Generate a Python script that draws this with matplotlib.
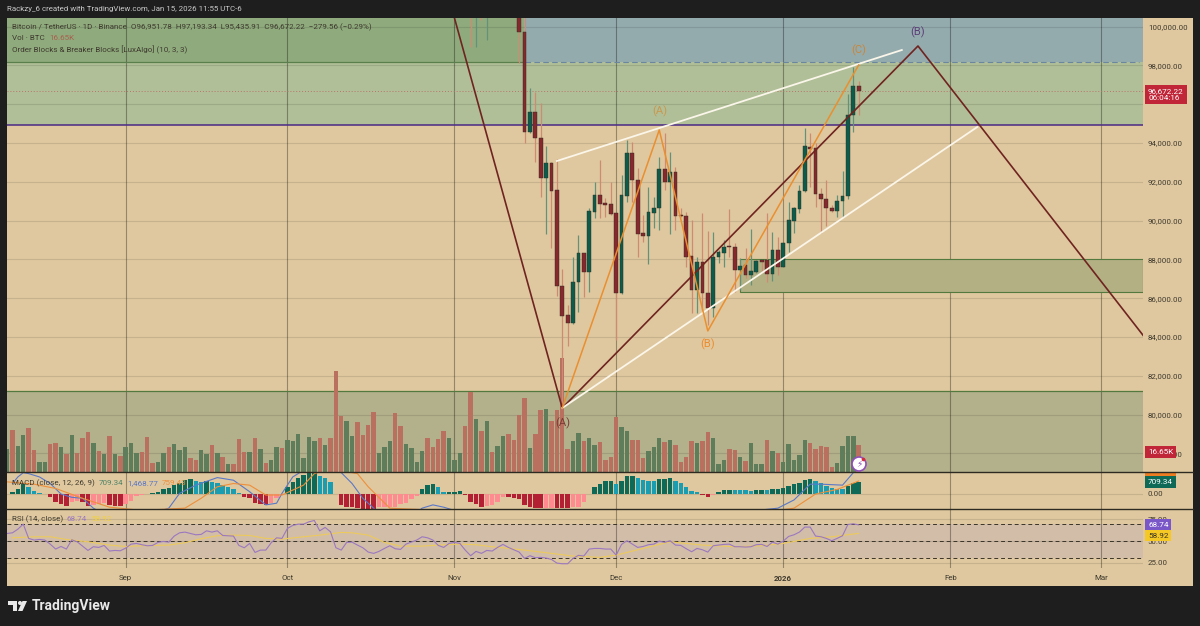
import matplotlib
matplotlib.use("Agg")
import matplotlib.pyplot as plt
import numpy as np
from matplotlib.patches import Rectangle, Polygon, Circle
from matplotlib.transforms import Bbox

plt.rcParams["font.family"] = ["Roboto", "DejaVu Sans"]

# bars are numbered from Aug 10 2025, one per day
month_ticks = [22, 52, 83, 113, 144, 175, 203]
month_labels = ["Sep", "Oct", "Nov", "Dec", "2026", "Feb", "Mar"]

volume = [14.6, 26.0, 16.5, 23.3, 27.5, 14.0, 6.5, 6.0, 17.7, 17.9, 15.4, 11.0, 22.9, 11.7, 21.3, 25.0, 18.3, 13.3, 11.5, 22.5,
          11.0, 9.8, 15.8, 18.3, 11.9, 12.3, 21.7, 5.4, 6.3, 11.9, 15.4, 17.5, 14.0, 15.4, 8.8, 7.5, 13.5, 11.0, 16.9, 11.9,
          9.4, 5.0, 5.0, 20.6, 12.3, 12.5, 21.3, 14.4, 5.8, 7.7, 15.4, 15.2, 20.2, 19.6, 23.8, 8.8, 22.1, 19.6, 21.5, 17.1,
          21.5, 63.3, 35.2, 31.9, 22.5, 31.5, 22.9, 29.6, 37.5, 11.7, 15.4, 19.2, 36.9, 28.5, 17.7, 15.2, 6.5, 13.3, 21.3, 15.4, 20.8,
          25.6, 21.5, 7.7, 12.1, 28.5, 49.8, 33.3, 25.6, 31.9, 12.3, 16.3, 22.5, 24.0, 20.2, 35.8, 46.5, 15.0, 23.5, 38.8, 39.2,
          31.9, 39.0, 71.5, 14.4, 19.4, 24.4, 19.4, 21.5, 16.7, 18.8, 7.7, 9.6, 34.4, 28.1, 25.6, 19.8, 19.8, 8.8, 12.9, 15.6,
          21.0, 18.8, 20.0, 16.7, 6.0, 9.6, 19.6, 18.3, 19.6, 25.2, 21.0, 5.2, 7.3, 14.6, 14.0, 9.4, 7.1, 18.1, 4.8, 4.8,
          20.0, 12.9, 11.9, 6.5, 17.5, 7.3, 10.4, 20.2, 18.1, 14.4, 16.0, 15.4, 3.3, 5.6, 16.3, 22.7, 22.7, 16.65]
volume_dir = ("GRGGRRGGRR" "GRGRRRGRGR" "GRGGGRRRGG" "RGGGRRGGRG" "RGRRRGRGRG" "GRGGGGGGRG" "RRRGGRRRRG" "GGRRGGGGRRR"
              "RGGGRRGRGR" "GGRRRRGRRG" "RRRRGGRGGR" "RRRGGRRRGG" "GRGRRRRGRR" "GGGRRGRGGG" "RGRGGGGGRR" "RRRGGGGR")

# candles, first one is bar 86, earlier ones are off the top of the chart
first_candle = 86
opens = [102500, 101800, 102500, 101000, 102500, 101700, 103000, 103400, 102600, 101600, 99710, 94587, 95618, 94243, 92215,
         92988, 91579, 86645, 85132, 84703, 86834, 88313, 87367, 90461, 91321, 90891, 90840, 90375, 86250, 91269, 93470,
         92094, 89344, 89224, 90410, 90633, 92679, 92008, 92507, 90290, 90255, 88175, 86422, 87848, 86250, 85511, 88106,
         88347, 88691, 88622, 87453, 87694, 87195, 87367, 87952, 87969, 87230, 88485, 87625, 88828, 89997, 90616, 91527,
         93813, 93727, 91355, 91097, 90668, 90496, 91011, 91269, 95446, 96951.78]
highs = [103000, 103000, 103000, 103500, 103200, 103500, 103800, 103900, 102900, 102000, 100800, 96856, 96650, 96048, 93865,
         93040, 93160, 87488, 85648, 88141, 89258, 88330, 90633, 91974, 93126, 91149, 92008, 90400, 92352, 94157, 94071,
         92696, 90290, 91751, 91235, 93298, 94501, 93556, 92782, 90633, 90461, 90032, 88141, 90375, 89464, 89430, 88485,
         89000, 90582, 88828, 88055, 88570, 89550, 87969, 87969, 90410, 89396, 89172, 88914, 90977, 90719, 91837, 94759,
         94501, 93985, 91665, 92094, 90805, 91321, 92576, 96530, 97900, 97193.34]
lows = [98970, 98970, 100345, 99314, 101300, 101300, 102600, 102200, 100900, 98110, 94018, 94500, 93040, 91235, 89292,
        88605, 86112, 80600, 83534, 84650, 85270, 86078, 86301, 90117, 90117, 90169, 90290, 83843, 86215, 90977, 90977,
        88106, 88914, 87762, 89602, 89516, 91579, 89292, 89516, 90203, 87625, 85218, 85218, 85390, 84617, 85046, 87797,
        87625, 88141, 86335, 86422, 87023, 86679, 87281, 87367, 86851, 86903, 87195, 87600, 88399, 89344, 90375, 91493,
        91751, 90719, 89344, 89722, 90461, 90203, 90203, 91097, 94585, 95435.91]
closes = [102000, 102500, 101500, 102500, 101700, 103000, 103400, 102600, 101600, 99710, 94585, 95618, 94243, 92215, 92988,
          91544, 86645, 85098, 84703, 86851, 88313, 87367, 90496, 91321, 90857, 90805, 90341, 86250, 91321, 93470, 92094,
          89310, 89224, 90427, 90668, 92679, 92008, 92507, 90255, 90255, 88141, 86422, 87848, 86250, 85511, 88141, 88364,
          88656, 88622, 87453, 87677, 87195, 87384, 87900, 87883, 87230, 88485, 87625, 88828, 90032, 90633, 91544, 93848,
          93710, 91355, 91097, 90633, 90496, 91029, 91287, 95446, 96951.78, 96672.22]

macd_hist = [0, 118, 276, 571, 374, 177, 20, -39, -197, -493, -611, -709, -493, -453, -473, -709, -670, -630, -571, -670,
             -729, -749, -630, -414, -138, -79, -20, 20, 118, 256, 355, 493, 650, 808, 867, 768, 690, 749, 709, 670,
             512, 394, 276, 20, -197, -236, -532, -630, -690, -532, -276, -79, 394, 709, 926, 1103, 1221, 1230, 1064, 946,
             709, -39, -670, -768, -788, -867, -906, -920, -930, -808, -800, -788, -768, -611, -532, -315, -118, 296, 512, 571, 414,
             118, 118, 118, 138, -99, -512, -630, -808, -729, -690, -493, -197, -210, -230, -335, -670, -808, -847, -867,
             -847, -840, -867, -880, -885, -827, -808, -473, 0, 374, 591, 749, 788, 591, 788, 1044, 1084, 946, 847, 788,
             780, 906, 910, 915, 749, 650, 414, 177, 99, -59, -177, -59, 99, 197, 236, 230, 217, 197, 190, 236,
             240, 217, 256, 260, 355, 433, 552, 630, 808, 906, 749, 611, 473, 335, 296, 256, 453, 611, 709]
macd_x = [1, 2, 3, 4, 6, 8, 10, 12, 14, 16, 19, 25, 30, 32, 35, 39, 42, 45, 48, 50, 51, 53, 55, 58, 62, 64, 66, 68, 72, 77, 79,
          81, 85, 100, 125, 143, 146, 149, 151, 155, 157, 158]
macd_line = [611, 1005, 1261, 1202, 1005, 611, -20, -217, -276, -867, -1400, -1400, -867, 20, 512, 965, 808, 118, -670, -571,
             20, 1005, 1400, 1800, 1261, 611, -276, -867, -2200, -867, -670, -808, -1200, -4000, -1500, -867, -374, 571, 571,
             512, 1261, 1468.77]
signal_x = [0, 5, 9, 14, 19, 25, 33, 36, 39, 42, 45, 48, 51, 55, 57, 60, 65, 67, 71, 80, 100, 125, 146, 150, 154, 158]
signal_line = [709, 571, 315, -276, -808, -1000, -867, -276, 414, 611, 512, -79, -79, 512, 1202, 1500, 1202, 414, -867, -1000,
               -3200, -1800, -867, -20, 256, 759.43]

rsi = [58.8, 59.6, 63.8, 69.6, 53.1, 51.2, 51.9, 51.2, 46.5, 40.8, 43.8, 40.8, 51.5, 49.2, 44.2, 39.2, 43.5, 42.7, 45.0, 38.5,
       39.2, 38.8, 41.9, 46.5, 47.3, 45.8, 44.6, 45.0, 48.5, 49.6, 48.8, 55.8, 59.6, 60.4, 58.8, 57.3, 57.7, 61.9, 60.4, 61.9,
       56.5, 56.2, 55.8, 45.0, 42.3, 47.3, 36.9, 39.6, 39.6, 48.1, 53.8, 53.1, 64.6, 68.1, 69.6, 69.6, 72.3, 73.8, 61.9, 65.8,
       60.8, 42.3, 39.6, 48.5, 48.8, 45.4, 42.3, 37.3, 35.8, 38.1, 41.5, 44.6, 41.2, 40.4, 46.5, 48.8, 51.2, 55.0, 53.8, 51.2, 45.0,
       42.7, 47.3, 48.5, 47.3, 39.6, 33.1, 38.1, 35.8, 39.2, 38.5, 42.7, 46.2, 42.7, 40.0, 37.3, 30.0, 33.1, 30.8, 31.2, 30.4,
       28.8, 24.6, 23.8, 23.8, 30.0, 33.5, 32.7, 40.8, 41.5, 41.5, 40.8, 40.8, 33.8, 46.2, 50.4, 46.5, 42.7, 43.8, 45.8, 46.5,
       50.0, 48.5, 50.4, 45.4, 45.0, 41.2, 37.7, 41.5, 40.0, 37.3, 44.6, 45.4, 46.2, 46.5, 43.5, 43.5, 43.1, 43.5, 45.8, 46.2,
       43.8, 48.8, 46.5, 50.0, 55.4, 57.3, 60.4, 66.2, 66.2, 55.8, 55.0, 53.1, 50.4, 53.1, 56.2, 69.2, 70.0, 68.74]
rsi_ma_x = [1, 5, 8, 11, 15, 19, 22, 25, 30, 33, 36, 39, 42, 45, 48, 51, 55, 58, 62, 64, 67, 70, 73, 77, 80,
            84, 87, 90, 96, 101, 105, 110, 113, 118, 123, 129, 135, 140, 144, 149, 153, 158]
rsi_ma = [53.8, 55, 55, 51.9, 49.2, 45.4, 43.8, 44.6, 45.4, 48.1, 52.7, 56.2, 56.9, 56.5, 53.1, 52.3, 55, 56.9, 60, 59.6, 56.9,
          48.5, 44.2, 44.2, 45.4, 46.5, 45.8, 43.5, 39.6, 35.8, 32.7, 31.2, 33.8, 41.5, 49.2, 45.4, 43.5, 44.6, 47.3, 53.1, 55, 58.92]

# drawings on the chart
zigzag_x = [83, 103, 169, 211]
zigzag_y = [100450, 80335, 99005, 84000]
orange_x = [103, 121, 130, 158]
orange_y = [80335, 94673, 84310, 98025]
upper_x = [102, 166]
upper_y = [93074, 98798]
lower_x = [103, 180]
lower_y = [80335, 94827]
level = 94930
prev_close_level = 98200
price_ticks = [78000, 80000, 82000, 84000, 86000, 88000, 90000, 92000, 94000, 96000, 98000, 100000]

BG = "#dfc89f"
DARK = "#1e1e1e"
TXT = "#3f3a2e"
UP = "#0d5c4b"
DOWN = "#86282d"
UP_WICK = "#63917a"
DOWN_WICK = "#cf8a72"
LEGEND_SIZE = 5.8
W, H = 1200, 626
PX = 1 / 0.01939  # price per pixel on the main pane


def pane(top, bottom):
    a = fig.add_axes([7 / W, 1 - bottom / H, 1136 / W, (bottom - top) / H])
    a.set_facecolor("none")
    for s in a.spines.values():
        s.set_visible(False)
    a.set_xlim(-0.02, 210.75)
    a.set_xticks(month_ticks)
    a.grid(True, axis="y", color="black", alpha=0.11, lw=0.8)
    a.grid(True, axis="x", color="black", alpha=0.33, lw=0.8)
    a.set_axisbelow(True)
    a.yaxis.tick_right()
    a.tick_params(axis="both", length=0, labelsize=5.7, labelcolor=TXT, labelbottom=False, pad=3.5)
    return a


def tag(a, y, text, fc, tc="white", va="center"):
    return a.text(1.0045, y, text, transform=a.get_yaxis_transform(), color=tc, fontsize=5.9, va=va, ha="left", zorder=20,
                  linespacing=1.25, clip_on=False,
                  bbox=dict(boxstyle="square,pad=0.35", fc=fc, ec="none"))


def legend(a, x, y, text, color=TXT):
    a.text(x / W, 1 - y / H, text, transform=fig.transFigure, color=color, fontsize=LEGEND_SIZE, va="center", zorder=10)


fig = plt.figure(figsize=(W / 100, H / 100), dpi=100, facecolor=DARK)
fig.add_artist(Rectangle((7 / W, 1 - 586 / H), 1186 / W, 568 / H, transform=fig.transFigure, fc=BG, ec="none", zorder=-5))

# main pane
ax = pane(18, 472)
bottom_price = 100000 - (472 - 26.7) * PX
top_price = 100000 + (26.7 - 18) * PX
ax.set_ylim(bottom_price, top_price)
ax.set_yticks(price_ticks)
# the price tag covers the 96,000 label
ax.set_yticklabels(["" if p == 96000 else f"{p:,.2f}" for p in price_ticks])

ax.axhspan(prev_close_level, top_price, xmin=0, xmax=96 / 210.75, fc="#8fab7d", ec="none", zorder=0.3)
ax.axhspan(prev_close_level, top_price, xmin=96 / 210.75, xmax=1, fc="#94abae", ec="none", zorder=0.3)
ax.axhspan(level, prev_close_level, fc="#b0bf97", ec="none", zorder=0.3)
ax.axhspan(bottom_price, 81200, fc="#b3b18b", ec="none", zorder=0.3)
ax.axhline(81200, color="#53793f", lw=0.9, zorder=1)
ax.axhspan(86330, 88010, xmin=136 / 210.75, xmax=1, fc="#b3b084", ec="#53793f", lw=0.8, zorder=1)
ax.plot([0, 96], [prev_close_level] * 2, color="#5b7f4c", lw=0.9, zorder=1)
ax.plot([96, 210], [prev_close_level] * 2, color="#6a86a0", lw=0.8, ls=(0, (5, 3)), zorder=1)
ax.axhline(96672.22, color="#b8766a", lw=0.7, ls=(0, (1, 2)), zorder=1)
ax.axhline(level, color="#4a2a86", lw=1.1, zorder=1.5)

# volume sits at the bottom of the price pane
idx = np.arange(len(volume))
vol_colors = ["#5f7d5b" if d == "G" else "#b9705f" for d in volume_dir]
ax.bar(idx, np.array(volume) * 1.6 * PX, bottom=bottom_price, width=0.82, color=vol_colors, zorder=2)

# candles
cx = first_candle + np.arange(len(opens))
o, h, l, c = map(np.array, (opens, highs, lows, closes))
rising = c >= o
ax.vlines(cx, l, h, colors=[UP_WICK if r else DOWN_WICK for r in rising], lw=0.9, zorder=3)
ax.bar(cx, np.abs(c - o), bottom=np.minimum(o, c), width=0.7, color=[UP if r else DOWN for r in rising],
       edgecolor="#2e2a20", lw=0.3, zorder=4)

ax.plot(zigzag_x, zigzag_y, color="#6f2420", lw=1.2, zorder=5, solid_capstyle="round")
ax.plot(upper_x, upper_y, color="#fbf6ea", lw=1.3, zorder=5)
ax.plot(lower_x, lower_y, color="#fbf6ea", lw=1.3, zorder=5)
ax.plot(orange_x, orange_y, color="#ea8f30", lw=1.1, zorder=5.5)

ax.text(121, 95650, "(A)", color="#c9984e", fontsize=8, ha="center", va="center", zorder=6)
ax.text(130, 83620, "(B)", color="#ee8b2c", fontsize=8, ha="center", va="center", zorder=6)
ax.text(158, 98800, "(C)", color="#c9873a", fontsize=8, ha="center", va="center", zorder=6)
ax.text(103, 79570, "(A)", color="#7d3a34", fontsize=8, ha="center", va="center", zorder=6)
ax.text(169, 99690, "(B)", color="#5d3f78", fontsize=8, ha="center", va="center", zorder=6)

tag(ax, 96830, "96,672.22\n06:04:16", "#c02538", va="top")
tag(ax, 78060, "16.65K", "#c02538")

# legend text in the top left corner
legend(ax, 12, 27, "Bitcoin / TetherUS · 1D · Binance  O96,951.78  H97,193.34  L95,435.91  C96,672.22  −279.56 (−0.29%)")
legend(ax, 12, 38, "Vol · BTC")
legend(ax, 49, 38, "16.65K", "#a8604f")
legend(ax, 12, 49.5, "Order Blocks & Breaker Blocks [LuxAlgo] (10, 3, 3)")

# MACD pane
macd = pane(472.5, 508.5)
macd.set_ylim(-887, 1270)
macd.set_yticks([0])
macd.set_yticklabels(["0.00"])
hist = np.array(macd_hist)
prev = np.r_[0, hist[:-1]]
hist_colors = []
for v, p in zip(hist, prev):
    if v >= 0:
        hist_colors.append("#0e6a57" if v >= p else "#1a9db0")
    else:
        hist_colors.append("#b31f33" if v <= p else "#ff8a8f")
macd.bar(np.arange(len(hist)), hist, width=0.82, color=hist_colors, zorder=2)
macd.plot(macd_x, macd_line, color="#5a78c8", lw=0.8, zorder=3)
macd.plot(signal_x, signal_line, color="#ee8f3a", lw=0.8, zorder=3)
legend(macd, 12, 483, "MACD (close, 12, 26, 9)")
legend(macd, 99, 483, "709.34", "#4f8468")
legend(macd, 127, 483, "1,468.77", "#5a78c8")
legend(macd, 162, 483, "759.43", "#ee8f3a")
# the signal tag is pushed up by the 709 tag and cut by the pane edge
sig_tag = tag(macd, 1359, "759.43", "#ee7d22", tc="#3a3428")
sig_tag.set_clip_on(True)
sig_tag.set_clip_box(Bbox.from_extents(1143, H - 508, 1193, H - 472.5))
tag(macd, 709.34, "709.34", "#0e6a57")

# RSI pane
rs = pane(509, 568)
rs.set_ylim(18.9, 87.1)
rs.set_yticks([25, 50, 75])
rs.set_yticklabels(["25.00", "50.00", "75.00"])
rs.axhspan(30, 70, fc="#d2bda8", ec="none", zorder=0.3)
for band in [70, 50, 30]:
    rs.axhline(band, color="#3a3428", lw=0.7, ls=(0, (4, 3)), zorder=1)
rs.plot(np.arange(len(rsi)), rsi, color="#9b78c0", lw=0.8, zorder=3)
rs.plot(rsi_ma_x, rsi_ma, color="#ecca5c", lw=0.8, zorder=2.5)
legend(rs, 12, 519, "RSI (14, close)")
legend(rs, 66.5, 519, "68.74", "#9b78c0")
legend(rs, 91, 519, "58.92", "#f0d040")
tag(rs, 68.74, "68.74", "#7a57c8")
tag(rs, 56.4, "58.92", "#f5c823", tc="#3a3428")
rs.tick_params(axis="x", labelbottom=True, pad=5)
rs.set_xticklabels(month_labels)
for t, name in zip(rs.get_xticklabels(), month_labels):
    if name == "2026":
        t.set_fontweight("bold")

# pane separators
for y in [472, 508.5]:
    fig.add_artist(plt.Line2D([7 / W, 1193 / W], [1 - y / H] * 2, color="#2d2a22", lw=1.0, zorder=8))

# header and footer
fig.text(7 / W, 1 - 9.5 / H, "Rackzy_6 created with TradingView.com, Jan 15, 2026 11:55 UTC-6", color="#c9c9c9", fontsize=5.7, va="center")
fig.text(32 / W, 1 - 606 / H, "TradingView", color="#e9e9e9", fontsize=10, fontweight="bold", va="center")

# overlay in pixels for the logo and the alert icon
ov = fig.add_axes([0, 0, 1, 1], zorder=30)
ov.set_xlim(0, W)
ov.set_ylim(H, 0)
ov.axis("off")
ov.add_patch(Polygon([(8, 601), (17, 601), (17, 611), (12.5, 611), (12.5, 605), (8, 605)], fc="#e9e9e9", ec="none"))
ov.add_patch(Circle((20, 603), 2, fc="#e9e9e9", ec="none"))
ov.add_patch(Polygon([(22.5, 601), (27, 601), (22.5, 611), (18, 611)], fc="#e9e9e9", ec="none"))
ov.add_patch(Circle((859, 464), 7, fc="white", ec="#8e4fb8", lw=1.2))
ov.text(859, 464, "⚡", color="#8e4fb8", fontsize=6.5, ha="center", va="center", family=["DejaVu Sans"])
ov.add_patch(Circle((863.5, 459.5), 1.8, fc="#d8293a", ec="none"))

fig.savefig("out.png", dpi=100, facecolor=DARK)
